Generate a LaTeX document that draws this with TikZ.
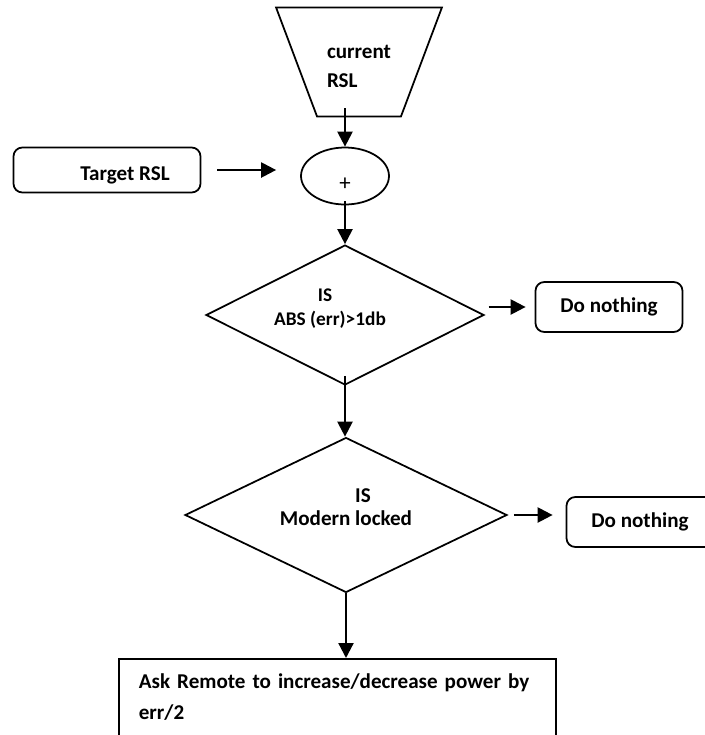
\documentclass[tikz,border=0pt]{standalone}
\usepackage{fontspec}
\setmainfont{Carlito}
\usepackage{tikz}
\usetikzlibrary{arrows.meta, positioning, shapes.geometric}

\begin{document}
\begin{tikzpicture}[
  x=0.02cm, y=-0.02cm,
  inbox/.style={
    draw, trapezium, trapezium angle=69.4, shape border rotate=180,
    inner xsep=0.2cm, inner ysep=0pt,
    text height=1.6cm, text depth=0.58cm,
    align=left, line width=1pt,
    font=\bfseries\fontsize{12}{16.5}\selectfont
  },
  sumnode/.style={
    draw, ellipse, line width=1pt, inner sep=0pt,
    minimum width=1.76cm, minimum height=1.14cm,
    text height=16pt, text depth=0pt,
    font=\fontsize{13}{13}\selectfont
  },
  rbox/.style={
    draw, rounded corners=5pt, line width=1pt, inner sep=0pt,
    minimum width=2.94cm, minimum height=1cm,
    font=\bfseries\fontsize{12}{14}\selectfont
  },
  decision/.style={
    draw, diamond, aspect=2, line width=1pt, inner sep=0pt,
    text depth=9pt, align=center,
    font=\bfseries\fontsize{12}{13.6}\selectfont
  },
  taskbox/.style={
    draw, rectangle, line width=1pt, anchor=north west,
    text width=7.94cm, inner xsep=0.4cm, inner ysep=0.3cm,
    align=left, text depth=1.2cm,
    font=\bfseries\fontsize{12}{17.6}\selectfont
  },
  arrow/.style={-{Triangle[length=3mm,width=3mm]}, line width=1.3pt}
]
\useasboundingbox (0,0) rectangle (705,735);
\clip (0,0) rectangle (705,735);

\node[inbox] (cur) at (359,62) {current\\RSL};
\node[sumnode] (sum) at (345,176) {+};
\node[rbox, minimum width=3.74cm, minimum height=0.9cm,
      text height=14pt, text depth=2pt] (target) at (107,170) {\hspace*{0.72cm}Target RSL};
\node[decision, minimum width=5.56cm, minimum height=2.8cm,
      font=\bfseries\fontsize{11}{14}\selectfont] (d1) at (345,315) {IS\hspace*{0.8cm}\\ABS (err)>1db\hspace*{0.6cm}};
\node[rbox] (no1) at (609,307) {Do nothing};
\node[decision, minimum width=6.44cm, minimum height=3.1cm] (d2) at (346,515) {\hspace*{0.68cm}IS\\Modern locked};
\node[rbox] (no2) at (640,522) {Do nothing};
\node[taskbox] (ask) at (118,658) {Ask Remote to increase/decrease power by\\err/2};

\draw[arrow] ([yshift=0.18cm]cur.south -| sum.north) -- (sum.north);
\draw[arrow] ([xshift=0.32cm]target.east) -- ([xshift=-0.48cm]sum.west |- target.east);
\draw[arrow] ([yshift=0.08cm]sum.south) -- (d1.north);
\draw[arrow] ([xshift=-0.92cm]no1.west) -- ([xshift=-0.18cm]no1.west);
\draw[arrow] ([yshift=0.2cm]d1.south) -- (d1.south |- d2.north);
\draw[arrow] ([xshift=0.12cm]d2.east) -- ([xshift=-0.26cm]no2.west |- d2.east);
\draw[arrow] (d2.south) -- (d2.south |- ask.north);
\end{tikzpicture}
\end{document}
